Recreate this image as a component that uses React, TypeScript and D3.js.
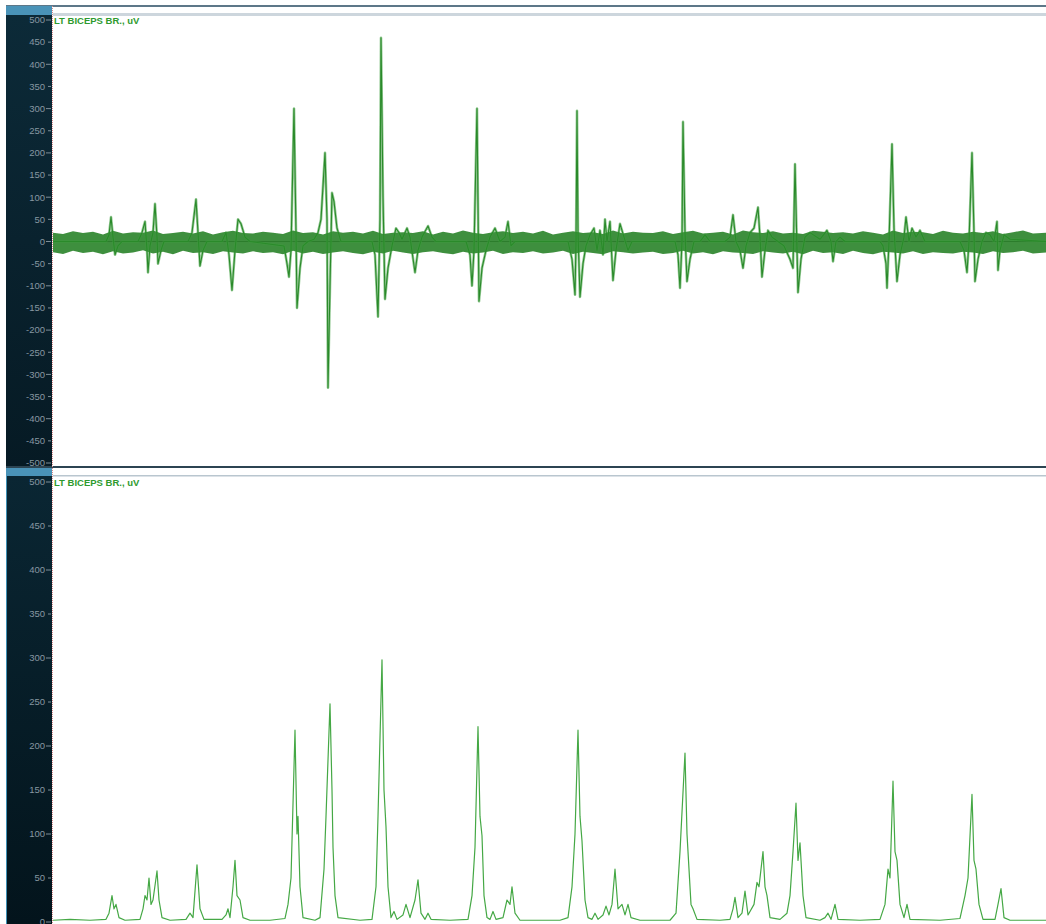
import React from "react";
import * as d3 from "d3";

// Raw EMG trace key points: [time ms, amplitude uV]
const rawTrace: [number, number][] = [
  [0, 0], [53, 0], [56, 15], [58, 55], [60, 10], [62, -30], [65, -10], [69, 0],
  [85, 0], [89, 20], [92, 45], [94, -20], [95, -70], [97, -10], [100, 20], [102, 85], [104, 10], [105, -50], [108, -20], [111, 0],
  [135, 0], [139, 20], [143, 95], [145, 20], [147, -55], [150, -20], [154, 0],
  [169, 0], [173, 20], [176, -30], [179, -110], [182, -20], [185, 50], [188, 40], [192, 10], [197, 0],
  [231, -10], [234, -50], [236, -80], [238, -20], [241, 300], [243, 20], [244, -150], [247, -60], [250, -10], [255, 0],
  [261, 5], [265, 20], [268, 50], [272, 200], [274, 50], [275, -330], [277, -100], [279, 110], [281, 90], [284, 30], [288, 0],
  [319, 0], [322, -30], [325, -170], [327, 50], [328, 460], [330, 100], [332, -130], [335, -60], [339, -10], [343, 30], [346, 20], [349, 5],
  [354, 30], [357, 10], [362, -70], [365, -20], [369, 10], [375, 35], [379, 10], [383, 0],
  [413, 0], [417, -30], [419, -100], [421, -20], [424, 300], [426, -135], [429, -60], [433, -20], [437, 10], [442, 30], [447, 0],
  [452, 10], [455, 45], [458, -10], [462, 0],
  [515, 0], [519, -40], [522, -120], [523, 0], [524, 295], [525, 20], [527, -125], [530, -50], [533, -10], [537, 15], [541, 30],
  [544, -20], [547, 25], [550, -30], [552, 50], [554, 0], [557, 45], [560, -88], [563, -20], [567, 40], [571, 10], [575, -20], [579, 0],
  [622, 0], [625, -30], [627, -105], [629, 0], [630, 270], [632, 20], [634, -90], [637, -40], [641, 0],
  [647, 0], [652, 15], [657, 0], [672, 0], [677, 10], [680, 60], [683, 0], [687, -20], [690, -60], [693, -10], [697, 20], [701, 30],
  [705, 77], [707, 10], [709, -80], [712, -20], [715, 25], [719, 10], [725, 0], [731, -10], [737, -40], [740, -60], [742, 175],
  [745, -115], [748, -40], [752, 10], [757, 20], [767, 5], [774, 25], [778, 0], [780, -45], [783, 0], [787, 10], [792, 0],
  [827, 0], [830, -10], [833, -50], [834, -105], [836, 0], [839, 220], [841, 30], [844, -90], [847, -30], [851, 10], [853, 55],
  [856, 0], [859, 30], [863, 10], [867, 25], [872, 0],
  [907, 0], [911, -20], [914, -70], [916, 0], [919, 200], [921, 20], [922, -90], [925, -40], [929, 0], [933, 20], [937, 15], [941, 0],
  [944, 45], [945, -65], [947, -20], [951, 15], [957, 5], [993, 0],
];

// Baseline noise envelope of the raw trace: [time ms, upper uV, lower uV]
const noiseBand: [number, number, number][] = [
  [0, 20, -24], [10, 17, -28], [20, 23, -21], [30, 19, -26], [40, 22, -23], [50, 16, -29], [60, 24, -22], [70, 18, -27], [80, 21, -25], [90, 20, -20],
  [100, 25, -27], [110, 17, -23], [120, 19, -29], [130, 22, -21], [140, 18, -26], [150, 23, -24], [160, 16, -28], [170, 21, -22], [180, 24, -25], [190, 19, -27],
  [200, 18, -22], [210, 22, -26], [220, 20, -24], [230, 17, -29], [240, 25, -21], [250, 19, -27], [260, 21, -23], [270, 16, -28], [280, 23, -25], [290, 20, -22],
  [300, 22, -26], [310, 18, -29], [320, 24, -23], [330, 17, -27], [340, 20, -21], [350, 21, -25], [360, 19, -28], [370, 23, -24], [380, 16, -22], [390, 22, -26],
  [400, 18, -29], [410, 25, -23], [420, 20, -27], [430, 17, -25], [440, 21, -21], [450, 23, -28], [460, 19, -24], [470, 22, -26], [480, 18, -22], [490, 24, -27],
  [500, 16, -25], [510, 20, -21], [520, 23, -28], [530, 19, -23], [540, 21, -26], [550, 17, -29], [560, 25, -22], [570, 18, -24], [580, 22, -27], [590, 20, -25],
  [600, 19, -23], [610, 23, -28], [620, 17, -26], [630, 21, -21], [640, 24, -27], [650, 18, -24], [660, 20, -29], [670, 22, -22], [680, 16, -25], [690, 25, -26],
  [700, 21, -28], [710, 19, -22], [720, 23, -25], [730, 18, -27], [740, 20, -23], [750, 17, -29], [760, 24, -21], [770, 22, -26], [780, 19, -24], [790, 21, -28],
  [800, 18, -21], [810, 23, -26], [820, 20, -29], [830, 16, -23], [840, 25, -25], [850, 19, -27], [860, 22, -22], [870, 21, -28], [880, 17, -24], [890, 24, -26],
  [900, 20, -27], [910, 18, -23], [920, 22, -25], [930, 19, -28], [940, 23, -22], [950, 17, -26], [960, 21, -24], [970, 25, -21], [980, 18, -27], [993, 20, -25],
];

// Rectified / smoothed envelope key points: [time ms, amplitude uV]
const envTrace: [number, number][] = [
  [0, 2], [17, 3], [37, 2], [53, 3], [56, 10], [59, 30], [61, 15], [63, 20], [66, 5], [72, 2],
  [87, 3], [90, 15], [92, 30], [94, 25], [96, 50], [98, 20], [100, 25], [104, 58], [106, 25], [109, 5], [117, 2],
  [133, 3], [137, 10], [140, 5], [144, 65], [147, 15], [151, 3],
  [169, 3], [173, 8], [175, 15], [177, 5], [180, 40], [182, 70], [184, 30], [187, 25], [190, 5], [197, 2],
  [217, 2], [232, 4], [235, 20], [238, 50], [242, 218], [244, 100], [245, 120], [247, 40], [250, 5],
  [262, 2], [267, 5], [271, 60], [273, 120], [277, 248], [279, 150], [280, 85], [282, 30], [285, 5],
  [307, 2], [319, 3], [323, 40], [325, 120], [329, 298], [331, 150], [333, 108], [335, 40], [338, 5], [341, 12], [344, 3],
  [350, 8], [353, 20], [357, 5], [362, 25], [365, 48], [368, 10], [372, 3], [375, 10], [378, 3],
  [397, 2], [415, 3], [419, 30], [422, 85], [425, 222], [427, 120], [429, 98], [431, 30], [434, 5], [437, 3], [440, 12], [443, 3],
  [450, 5], [454, 25], [457, 20], [459, 40], [462, 10], [467, 2],
  [507, 2], [515, 5], [519, 40], [522, 100], [525, 218], [527, 120], [529, 92], [532, 25], [535, 5], [539, 3], [542, 10], [545, 3],
  [550, 8], [553, 18], [556, 8], [559, 20], [562, 60], [565, 15], [569, 20], [572, 8], [575, 20], [578, 5], [587, 2],
  [617, 2], [623, 10], [627, 80], [632, 192], [634, 100], [635, 80], [638, 20], [640, 15], [644, 3],
  [667, 2], [677, 3], [680, 15], [682, 28], [685, 5], [689, 10], [692, 35], [695, 8], [701, 20], [704, 45], [706, 40],
  [710, 80], [712, 40], [714, 30], [717, 5], [727, 3], [734, 10], [737, 30], [740, 80], [743, 135], [745, 70], [747, 90],
  [750, 30], [753, 5], [767, 2], [772, 5], [775, 10], [778, 3], [782, 20], [785, 3],
  [807, 2], [827, 3], [832, 20], [835, 60], [837, 50], [840, 160], [842, 80], [844, 70], [847, 20], [851, 5], [854, 20], [857, 3],
  [887, 2], [907, 4], [912, 30], [915, 50], [919, 145], [921, 70], [923, 60], [926, 20], [930, 3],
  [942, 3], [945, 20], [948, 38], [951, 5], [957, 2], [993, 2],
];

const topTicks = d3.range(-500, 501, 50);
const bottomTicks = d3.range(0, 501, 50);
const channelLabel = "LT BICEPS BR., uV";
const timeDomain: [number, number] = [0, 993];

const W = 1046;
const H = 924;
const PLOT_X0 = 53;
const PANEL_X0 = 6;
const FONT = "Arial, 'Liberation Sans', sans-serif";

function Axis({ scale, ticks, x }: { scale: d3.ScaleLinear<number, number>; ticks: number[]; x: number }) {
  return (
    <g>
      {ticks.map((t) => {
        const y = scale(t);
        const major = t % 100 === 0;
        return (
          <g key={t}>
            <line x1={major ? x - 7 : x - 5} x2={x - 2} y1={y} y2={y} stroke="#7d8e99" strokeWidth={1} />
            <text x={x - 8} y={y + 3.3} fontSize={9.5} fill="#8797a2" textAnchor="end" fontFamily={FONT}>
              {t}
            </text>
          </g>
        );
      })}
    </g>
  );
}

export default function App() {
  const x = d3.scaleLinear().domain(timeDomain).range([PLOT_X0, W]);
  const yTop = d3.scaleLinear().domain([-500, 500]).range([463, 20]);
  const yBot = d3.scaleLinear().domain([0, 500]).range([922, 482]);

  const rawLine = d3.line<[number, number]>().x((d) => x(d[0])).y((d) => yTop(d[1]));
  const band = d3
    .area<[number, number, number]>()
    .x((d) => x(d[0]))
    .y0((d) => yTop(d[2]))
    .y1((d) => yTop(d[1]));
  const envLine = d3.line<[number, number]>().x((d) => x(d[0])).y((d) => yBot(d[1]));

  return (
    <div style={{ position: "fixed", left: 0, top: 0, width: W, height: H, background: "#fff" }}>
      <svg width={W} height={H} style={{ display: "block" }}>
        <defs>
          <linearGradient id="panelGrad" x1="0" y1="0" x2="0" y2="1">
            <stop offset="0" stopColor="#0c2a38" />
            <stop offset="1" stopColor="#061a24" />
          </linearGradient>
          <linearGradient id="panelGrad2" x1="0" y1="0" x2="0" y2="1">
            <stop offset="0" stopColor="#0a2633" />
            <stop offset="1" stopColor="#03141c" />
          </linearGradient>
          <clipPath id="clipTop">
            <rect x={PLOT_X0} y={16} width={W - PLOT_X0} height={450} />
          </clipPath>
          <clipPath id="clipBot">
            <rect x={PLOT_X0} y={477} width={W - PLOT_X0} height={H - 477} />
          </clipPath>
        </defs>
        <rect x={0} y={0} width={W} height={H} fill="#ffffff" />

        {/* top frame */}
        <rect x={PANEL_X0} y={5} width={W - PANEL_X0} height={2} fill="#5d7788" />
        <rect x={PLOT_X0} y={13} width={W - PLOT_X0} height={3} fill="#cdd6dd" />
        <rect x={PANEL_X0} y={6} width={PLOT_X0 - PANEL_X0 - 1} height={9} fill="#4a93b8" />
        <rect x={PANEL_X0} y={15} width={PLOT_X0 - PANEL_X0 - 1} height={452} fill="url(#panelGrad)" />

        {/* separator */}
        <rect x={PANEL_X0} y={466} width={W - PANEL_X0} height={2} fill="#2c4452" />
        <rect x={PANEL_X0} y={468} width={PLOT_X0 - PANEL_X0 - 1} height={8} fill="#4a93b8" />
        <rect x={PLOT_X0} y={475} width={W - PLOT_X0} height={1.5} fill="#b9c6cf" />
        <rect x={PANEL_X0} y={476} width={PLOT_X0 - PANEL_X0 - 1} height={H - 476} fill="url(#panelGrad2)" />
        <rect x={PANEL_X0} y={476} width={1} height={H - 476} fill="#3d8fb4" />

        {/* panel right edges */}
        <line x1={PLOT_X0 - 0.5} x2={PLOT_X0 - 0.5} y1={6} y2={H} stroke="#d88a8a" strokeWidth={1} strokeDasharray="1,1" />

        <Axis scale={yTop} ticks={topTicks} x={PLOT_X0} />
        <Axis scale={yBot} ticks={bottomTicks} x={PLOT_X0} />

        {/* top panel trace */}
        <g clipPath="url(#clipTop)">
          <line x1={PLOT_X0} x2={W} y1={yTop(0)} y2={yTop(0)} stroke="#6e6e6e" strokeWidth={1} />
          <path d={band(noiseBand) ?? ""} fill="#237f23" fillOpacity={0.88} />
          <path d={rawLine(rawTrace) ?? ""} fill="none" stroke="#3e9e3e" strokeOpacity={0.55} strokeWidth={2.6} strokeLinejoin="round" />
          <path d={rawLine(rawTrace) ?? ""} fill="none" stroke="#2a8a2a" strokeWidth={1.1} strokeLinejoin="round" />
        </g>
        <text x={PLOT_X0 + 1} y={24} fontSize={9.5} fontWeight="bold" fill="#2e9a2e" fontFamily={FONT}>
          {channelLabel}
        </text>

        {/* bottom panel trace */}
        <g clipPath="url(#clipBot)">
          <path d={envLine(envTrace) ?? ""} fill="none" stroke="#45a845" strokeWidth={1.2} strokeLinejoin="round" />
        </g>
        <text x={PLOT_X0 + 1} y={486} fontSize={9.5} fontWeight="bold" fill="#2e9a2e" fontFamily={FONT}>
          {channelLabel}
        </text>
      </svg>
    </div>
  );
}
